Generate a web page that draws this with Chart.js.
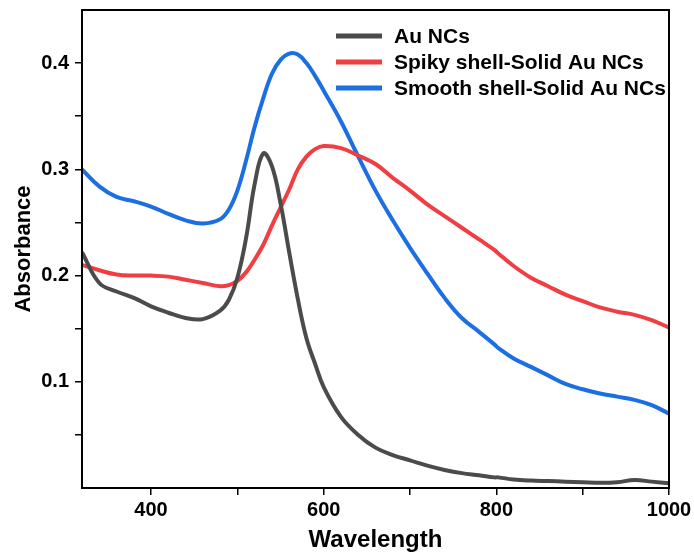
<!DOCTYPE html>
<html>
<head>
<meta charset="utf-8">
<script src="https://cdn.jsdelivr.net/npm/chart.js@4"></script>
<style>
  html, body { margin: 0; padding: 0; background: #fff; }
  #wrap { width: 694px; height: 559px; }
</style>
</head>
<body>
<div id="wrap"><canvas id="myChart" width="694" height="559"></canvas></div>
<script>
// Wavelength (nm)
const wavelengths = [320, 340, 360, 380, 400, 420, 440, 460, 480, 490, 500, 510, 520, 530, 540, 550, 560, 570, 580, 590,
    600, 620, 640, 660, 680, 700, 720, 740, 760, 780, 798, 802, 820, 840, 860, 880, 900, 920, 940, 960, 980, 1000];

const auNCs = [0.222, 0.193, 0.185, 0.179, 0.171, 0.165, 0.160, 0.159, 0.167, 0.177, 0.198, 0.235, 0.286, 0.315, 0.303, 0.268, 0.222, 0.178, 0.141, 0.117,
    0.095, 0.067, 0.050, 0.038, 0.031, 0.026, 0.021, 0.017, 0.014, 0.012, 0.010, 0.010, 0.008, 0.007, 0.0065, 0.006, 0.0055, 0.005, 0.0055, 0.0075, 0.006, 0.0045];

const spikyShell = [0.210, 0.205, 0.201, 0.200, 0.200, 0.199, 0.196, 0.193, 0.190, 0.191, 0.195, 0.203, 0.215, 0.229, 0.247, 0.264, 0.281, 0.300, 0.312, 0.319,
    0.322, 0.320, 0.313, 0.305, 0.292, 0.280, 0.267, 0.256, 0.245, 0.234, 0.224, 0.221, 0.209, 0.198, 0.190, 0.182, 0.176, 0.170, 0.166, 0.163, 0.158, 0.151];

const smoothShell = [0.300, 0.284, 0.274, 0.270, 0.265, 0.258, 0.252, 0.249, 0.253, 0.262, 0.280, 0.308, 0.340, 0.367, 0.390, 0.403, 0.409, 0.408, 0.400, 0.388,
    0.374, 0.345, 0.312, 0.280, 0.252, 0.226, 0.202, 0.179, 0.160, 0.147, 0.135, 0.132, 0.122, 0.114, 0.106, 0.098, 0.093, 0.089, 0.086, 0.083, 0.078, 0.070];

const seriesLabels = ['Au NCs', 'Spiky shell-Solid Au NCs', 'Smooth shell-Solid Au NCs'];
const seriesColors = ['#4b4b4b', '#ef3f42', '#1b6fe2'];

const xTicks = [400, 500, 600, 700, 800, 900, 1000];
const xLabelled = [400, 600, 800, 1000];
const yTicks = [0.05, 0.1, 0.15, 0.2, 0.25, 0.3, 0.35, 0.4];
const yLabelled = [0.1, 0.2, 0.3, 0.4];

const FONT = 'Arial, "Liberation Sans", sans-serif';

function toPoints(values) {
    return wavelengths.map((w, i) => ({ x: w, y: values[i] }));
}

// box around the plot + legend drawn inside the plot area
const frameAndLegend = {
    id: 'frameAndLegend',
    afterDatasetsDraw(chart) {
        const { ctx, chartArea } = chart;
        ctx.save();
        ctx.strokeStyle = '#000';
        ctx.lineWidth = 2;
        ctx.strokeRect(chartArea.left, chartArea.top, chartArea.right - chartArea.left, chartArea.bottom - chartArea.top);

        ctx.font = 'bold 21px ' + FONT;
        ctx.textBaseline = 'middle';
        chart.data.datasets.forEach((ds, i) => {
            const y = 36 + i * 26;
            ctx.strokeStyle = ds.borderColor;
            ctx.lineWidth = 5;
            ctx.beginPath();
            ctx.moveTo(336, y);
            ctx.lineTo(382, y);
            ctx.stroke();
            ctx.fillStyle = '#000';
            ctx.fillText(ds.label, 394, y + 1);
        });
        ctx.restore();
    }
};

const ctx = document.getElementById('myChart').getContext('2d');

new Chart(ctx, {
    type: 'scatter',
    data: {
        datasets: [
            { label: seriesLabels[0], data: toPoints(auNCs), borderColor: seriesColors[0] },
            { label: seriesLabels[1], data: toPoints(spikyShell), borderColor: seriesColors[1] },
            { label: seriesLabels[2], data: toPoints(smoothShell), borderColor: seriesColors[2] }
        ].map(d => Object.assign(d, {
            showLine: true,
            pointRadius: 0,
            borderWidth: 4,
            tension: 0.4,
            fill: false
        }))
    },
    options: {
        responsive: false,
        animation: false,
        layout: { padding: { top: 10, right: 25, left: 0, bottom: 0 } },
        plugins: {
            legend: { display: false },
            tooltip: { enabled: false }
        },
        scales: {
            x: {
                type: 'linear',
                min: 320,
                max: 1000,
                afterBuildTicks: scale => { scale.ticks = xTicks.map(v => ({ value: v })); },
                afterFit: scale => { scale.height = 71; scale.paddingLeft = 0; scale.paddingRight = 0; },
                border: { display: false },
                grid: { drawOnChartArea: false, drawTicks: true, tickLength: 7, color: '#000', lineWidth: 1.5 },
                ticks: {
                    padding: 3,
                    color: '#000',
                    font: { family: FONT, size: 20, weight: 'bold' },
                    maxRotation: 0,
                    autoSkip: false,
                    callback: v => xLabelled.includes(v) ? String(v) : ''
                },
                title: {
                    display: true,
                    text: 'Wavelength',
                    color: '#000',
                    font: { family: FONT, size: 24, weight: 'bold' },
                    padding: { top: 0, bottom: 4 }
                }
            },
            y: {
                min: 0,
                max: 0.45,
                afterBuildTicks: scale => { scale.ticks = yTicks.map(v => ({ value: v })); },
                afterFit: scale => { scale.width = 82; scale.paddingTop = 0; scale.paddingBottom = 0; },
                border: { display: false },
                grid: { drawOnChartArea: false, drawTicks: true, tickLength: 7, color: '#000', lineWidth: 1.5 },
                ticks: {
                    padding: 6,
                    color: '#000',
                    font: { family: FONT, size: 20, weight: 'bold' },
                    autoSkip: false,
                    callback: v => yLabelled.some(t => Math.abs(t - v) < 1e-9) ? v.toFixed(1) : ''
                },
                title: {
                    display: true,
                    text: 'Absorbance',
                    color: '#000',
                    font: { family: FONT, size: 22, weight: 'bold' },
                    padding: { top: 11, bottom: 0 }
                }
            }
        }
    },
    plugins: [frameAndLegend]
});
</script>
</body>
</html>
